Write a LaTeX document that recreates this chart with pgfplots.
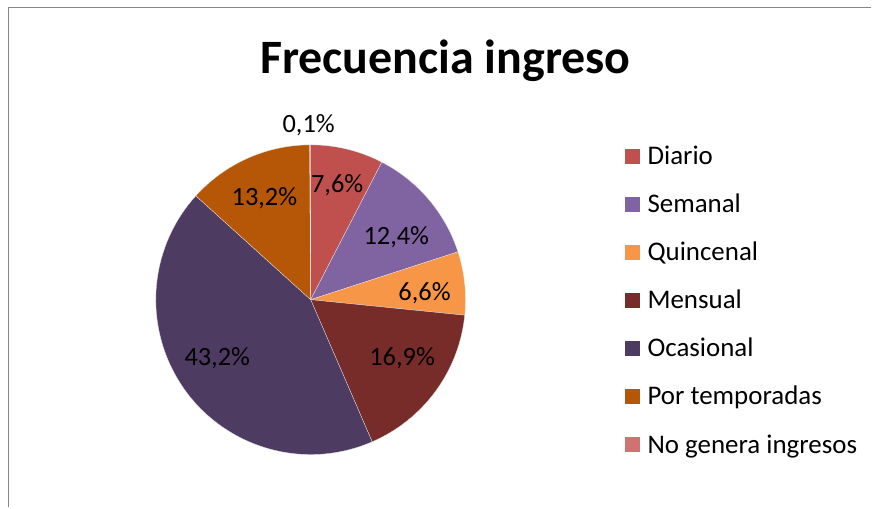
\documentclass[border=0pt]{standalone}
\usepackage{fontspec}
\setmainfont{Carlito}
\usepackage{pgfplots}
\usepackage{pgfplotstable}
\pgfplotsset{compat=1.18}

\definecolor{cA}{HTML}{C0504D}
\definecolor{cB}{HTML}{8064A2}
\definecolor{cC}{HTML}{F79646}
\definecolor{cD}{HTML}{772C2A}
\definecolor{cE}{HTML}{4D3B62}
\definecolor{cF}{HTML}{B65708}
\definecolor{cG}{HTML}{D07370}
\definecolor{frame}{HTML}{868686}

% share (%), colour, label centre (px, from top-left)
\pgfplotstableread{
name                 value  col  lx     ly
Diario               7.6    cA   337.5  185
Semanal              12.4   cB   396.7  237
Quincenal            6.6    cC   425    293.5
Mensual              16.9   cD   402.5  358.7
Ocasional            43.2   cE   217.5  358.7
{Por temporadas}     13.2   cF   264.7  198.7
{No genera ingresos} 0.1    cG   309    125
}\datatable

\begin{document}
\begin{tikzpicture}
\begin{axis}[
  width=654pt, height=381pt, scale only axis,
  xmin=0, xmax=872, ymin=0, ymax=508,
  hide axis, clip=false,
]
\path (axis cs:0,0) rectangle (axis cs:872,508);
\draw[frame, line width=1.4pt] (axis cs:8.5,0) -- (axis cs:8.5,500.5) -- (axis cs:872,500.5);

\node[anchor=base, inner sep=0, font=\fontsize{36}{40}\selectfont\bfseries]
  at (axis cs:446,434.7) {Frecuencia ingreso};

\pgfplotstablegetrowsof{\datatable}
\pgfmathtruncatemacro\nrows{\pgfplotsretval-1}
\gdef\cum{0}
\pgfkeys{/pgf/number format/.cd, fixed, fixed zerofill, precision=1,
  use comma, assume math mode=true}
\pgfplotsforeachungrouped \i in {0,...,\nrows}{
  \pgfplotstablegetelem{\i}{value}\of\datatable \let\v\pgfplotsretval
  \pgfplotstablegetelem{\i}{col}\of\datatable \let\c\pgfplotsretval
  \pgfplotstablegetelem{\i}{name}\of\datatable \let\nm\pgfplotsretval
  \pgfplotstablegetelem{\i}{lx}\of\datatable \let\lx\pgfplotsretval
  \pgfplotstablegetelem{\i}{ly}\of\datatable \let\ly\pgfplotsretval
  \pgfmathsetmacro\aone{90-3.6*\cum}
  \pgfmathsetmacro\atwo{90-3.6*(\cum+\v)}
  \pgfmathsetmacro\ly{508-\ly}
  \pgfmathprintnumberto{\v}{\lbl}
  % wedge
  \edef\temp{\noexpand\fill[\c, draw=white!85!gray, line width=0.2pt]
    (axis cs:311,208) -- ++(\aone:116.25pt)
    arc[start angle=\aone, end angle=\atwo, radius=116.25pt] -- cycle;}
  \temp
  % data label
  \edef\temp{\noexpand\node[inner sep=0, font=\noexpand\fontsize{19.8}{22}\noexpand\selectfont]
    at (axis cs:\lx,\ly) {\expandafter\unexpanded\expandafter{\lbl}\noexpand\%};}
  \temp
  % legend entry
  \pgfmathsetmacro\yc{508-(156.7+48.1*\i)}
  \pgfmathsetmacro\ybot{\yc-7.5}
  \pgfmathsetmacro\ytop{\yc+7.5}
  \pgfmathsetmacro\ybase{\yc-8.2}
  \edef\temp{\noexpand\fill[\c] (axis cs:626,\ybot) rectangle (axis cs:641,\ytop);}
  \temp
  \edef\temp{\noexpand\node[anchor=base west, inner sep=0,
    font=\noexpand\fontsize{20.2}{22}\noexpand\selectfont]
    at (axis cs:648,\ybase) {\expandafter\unexpanded\expandafter{\nm}};}
  \temp
  \pgfmathsetmacro\newcum{\cum+\v}
  \xdef\cum{\newcum}
}
\end{axis}
\end{tikzpicture}
\end{document}
